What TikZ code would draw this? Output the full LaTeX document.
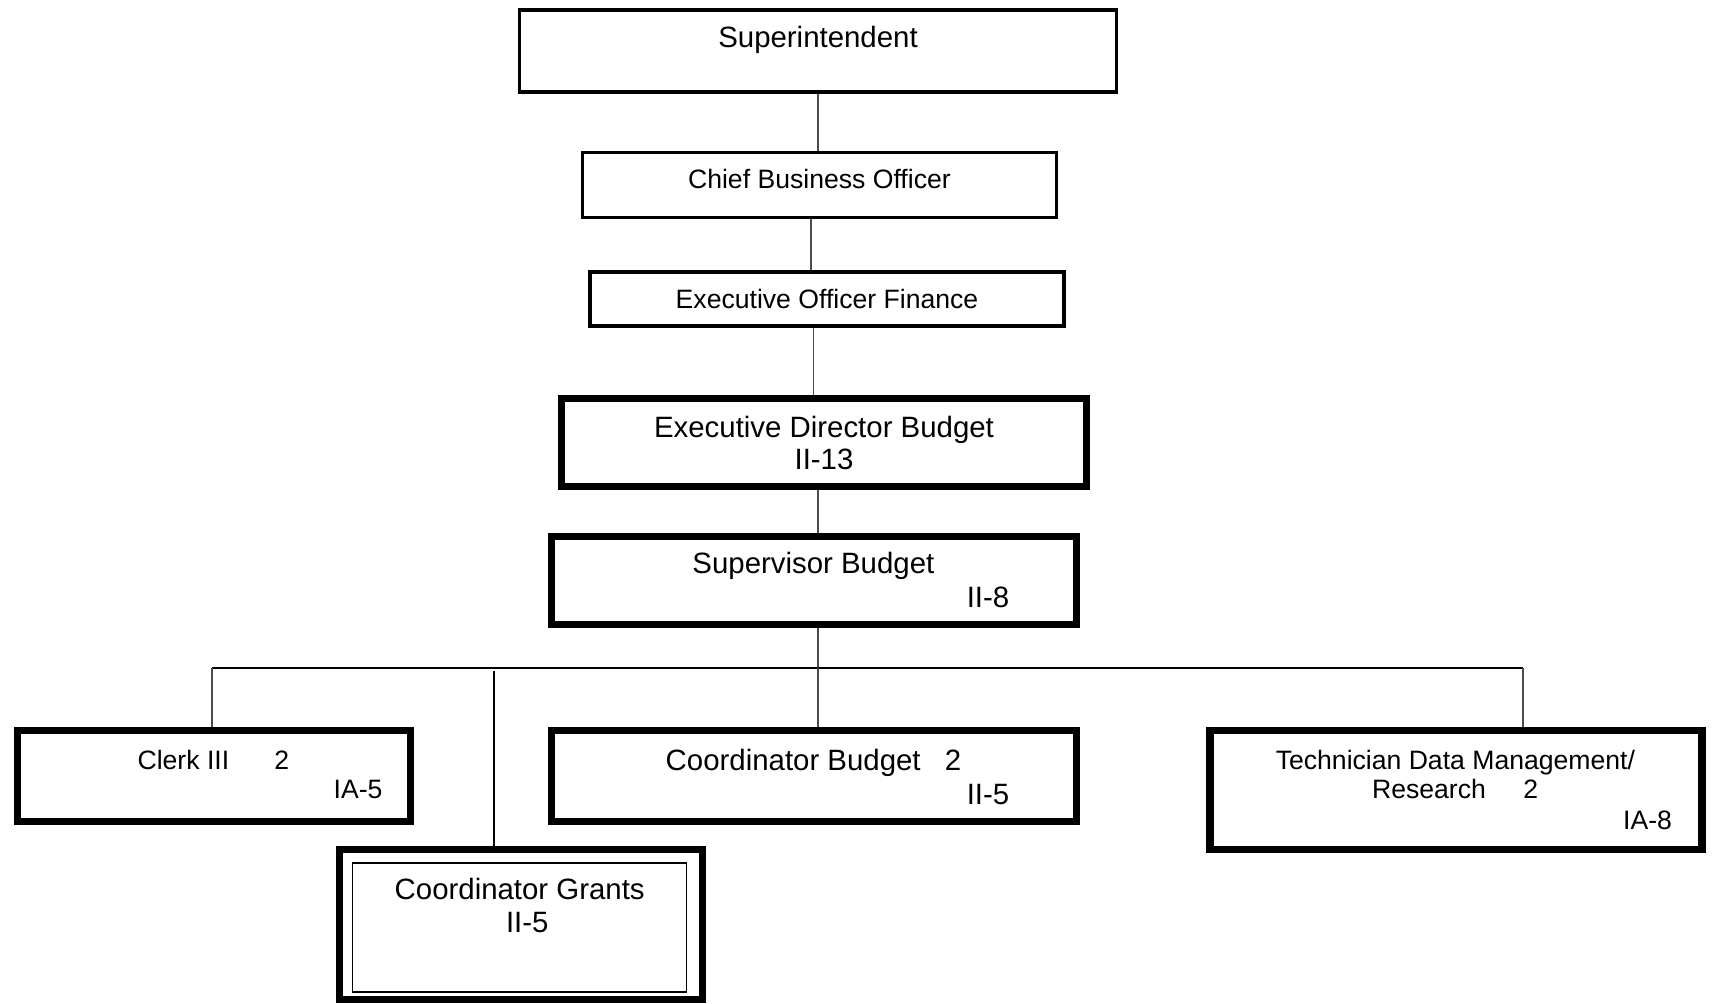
\documentclass[tikz,border=0pt]{standalone}
\usepackage{fontspec}
\setmainfont{Liberation Sans}
\usetikzlibrary{backgrounds}
\begin{document}
\begin{tikzpicture}[x=0.5pt,y=-0.5pt,
 box/.style={draw=black,inner sep=0pt,outer sep=0pt,fill=white},
 supbox/.style={box,line width=1.8pt},
 midbox/.style={box,line width=1.6pt},
 thkbox/.style={box,line width=3.6pt},
 thinbox/.style={box,line width=0.6pt},
 conn/.style={draw=black!70,line width=0.85pt},
 busline/.style={draw=black,line width=0.65pt},
 txt/.style={inner sep=0pt,text height=1.1em,text depth=0.18em},
 sm/.style={txt,font=\fontsize{13.3}{15}\selectfont},
 lg/.style={txt,font=\fontsize{14.7}{16.4}\selectfont},
]
\useasboundingbox (0,0) rectangle (1712,1004);

% boxes
\node[supbox,minimum width=298.5pt,minimum height=41pt] (super) at (818,51) {};
\node[midbox,minimum width=237pt,minimum height=32.5pt] (cbo) at (819.4,185) {};
\node[midbox,minimum width=237pt,minimum height=27pt] (eof) at (827,299) {};
\node[thkbox,minimum width=262.3pt,minimum height=44pt] (edb) at (823.8,442.5) {};
\node[thkbox,minimum width=262.3pt,minimum height=44pt] (sb) at (814,580.5) {};
\node[thkbox,minimum width=196.3pt,minimum height=45.5pt] (clerk) at (214,776) {};
\node[thkbox,minimum width=262.3pt,minimum height=45.5pt] (cb) at (814,776) {};
\node[thkbox,minimum width=246pt,minimum height=59.5pt] (tech) at (1455.9,790) {};
\node[thkbox,minimum width=181.5pt,minimum height=75pt] (grants) at (521,924.5) {};
\node[thinbox,minimum width=167pt,minimum height=64.5pt] (grantsin) at (519.5,927.5) {};

% texts
\node[lg] (tsuper) at (818,38.2) {Superintendent};
\node[sm] (tcbo) at (819.4,179) {Chief Business Officer};
\node[sm] (teof) at (827,299.2) {Executive Officer Finance};
\node[lg] (tedba) at (824,428) {Executive Director Budget};
\node[lg] (tedbb) at (824,460.7) {II-13};
\node[lg] (tsba) at (813.4,564.5) {Supervisor Budget};
\node[lg] (tsbb) at (988,598.3) {II-8};
\node[sm] (tclerka) at (183.4,760) {Clerk III};
\node[sm] (tclerkb) at (281.7,760) {2};
\node[sm] (tclerkc) at (358,789.4) {IA-5};
\node[lg] (tcba) at (793.2,761) {Coordinator Budget};
\node[lg] (tcbb) at (953,761) {2};
\node[lg] (tcbc) at (988,794.8) {II-5};
\node[sm] (tteca) at (1455.4,760) {Technician Data Management/};
\node[sm] (ttecb) at (1429,789.4) {Research};
\node[sm] (ttecc) at (1530.7,789.4) {2};
\node[sm] (ttecd) at (1647.5,820) {IA-8};
\node[lg] (tgra) at (519.7,889.8) {Coordinator Grants};
\node[lg] (tgrb) at (527.3,923.7) {II-5};

% connectors
\coordinate (busc) at (817.8,668);
\coordinate (busl) at (211.8,668);
\coordinate (busr) at (1523,668);
\coordinate (gtop) at (494,671);
\begin{scope}[on background layer]
\draw[conn] (super.south -| 817.8,0) -- (cbo.north -| 817.8,0);
\draw[conn] (cbo.south -| 811.2,0) -- (eof.north -| 811.2,0);
\draw[conn] (eof.south -| 813.4,0) -- (edb.north -| 813.4,0);
\draw[conn] (edb.south -| 817.8,0) -- (sb.north -| 817.8,0);
\draw[conn] (sb.south -| busc) -- (busc);
\draw[busline] (busl) -- (busr);
\draw[conn] (busl) -- (clerk.north -| busl);
\draw[conn] (busc) -- (cb.north -| busc);
\draw[conn] (busr) -- (tech.north -| busr);
\draw[conn,draw=black] (gtop) -- (grants.north -| gtop);
\end{scope}
\end{tikzpicture}
\end{document}
